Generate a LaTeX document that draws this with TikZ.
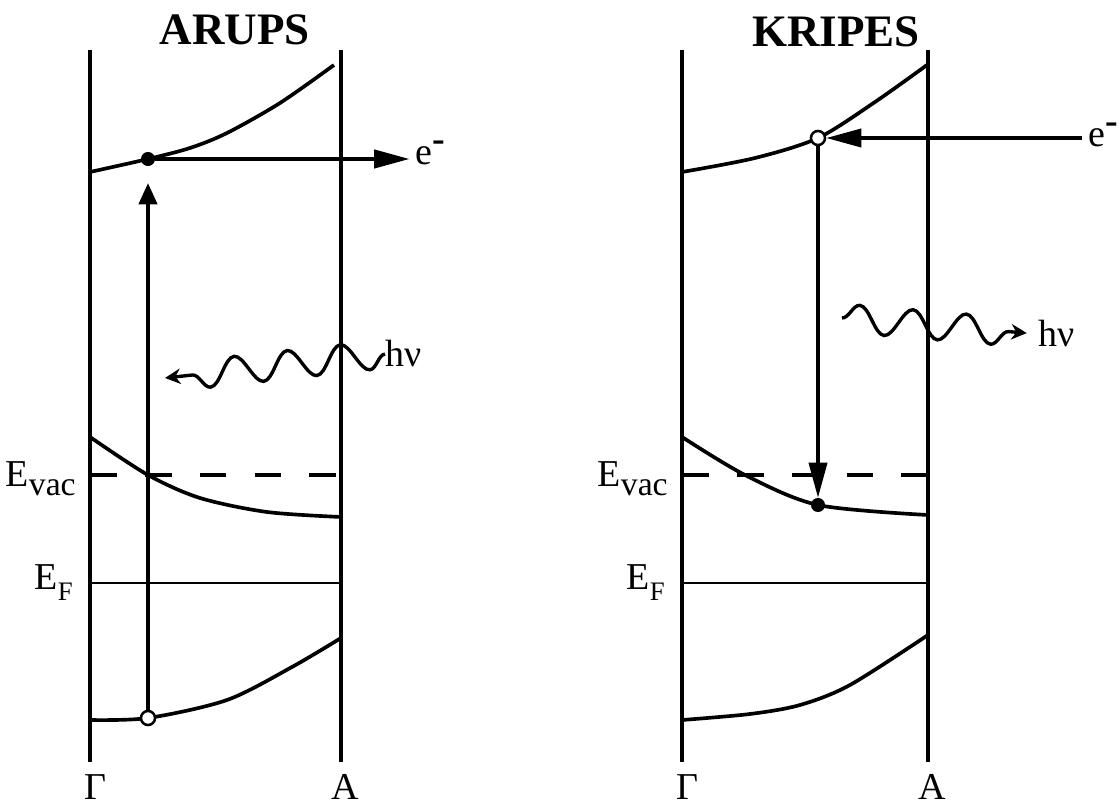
\documentclass[tikz,border=0pt]{standalone}
\usepackage{fontspec}
\setmainfont{Liberation Serif}
\usetikzlibrary{arrows.meta,decorations.pathmorphing}
\tikzset{
  axisline/.style={line width=2.5pt},
  bandline/.style={line width=2.6pt},
  vacline/.style={line width=2.8pt,dash pattern=on 19pt off 20pt},
  fermiline/.style={line width=1.9pt},
  uparrow/.style={-{Triangle[length=15pt,width=13pt]},line width=2.3pt},
  longarrow/.style={-{Triangle[length=25pt,width=13pt]},line width=2.3pt},
  photon/.style={-{Stealth[length=11pt,width=11pt]},line width=2.4pt,decorate,
    decoration={snake,amplitude=10pt,segment length=38pt,post length=8pt}},
  fulldot/.style={circle,fill=black,inner sep=0pt,minimum size=10pt},
  emptydot/.style={circle,draw,line width=1.8pt,fill=white,inner sep=0pt,minimum size=10pt},
  lbl/.style={font=\fontsize{27}{30}\selectfont,inner sep=0pt},
  title/.style={font=\fontsize{32}{36}\selectfont\bfseries},
}

\begin{document}
\begin{tikzpicture}[x=0.025cm,y=-0.025cm]
  \useasboundingbox (0,0) rectangle (1120,806);
  \node[title] (arups) at (235,30) {ARUPS};
  \node[title] (kripes) at (836,32) {KRIPES};
  \foreach \l/\r/\n in {90/341/a,682/928/k}{
    \draw[axisline] (\l,50) -- (\l,762);
    \draw[axisline] (\r,50) -- (\r,762);
    \draw[vacline] (\l,475) -- (\r,475);
    \draw[fermiline] (\l,583) -- (\r,583);
    \node[lbl,anchor=base] (gamma\n) at (\l+5,799) {Γ};
    \node[lbl,anchor=base] (a\n) at (\r+4,799) {A};
    \node[lbl,anchor=base east] (evac\n) at (\l-14,487) {E\raisebox{-6pt}{\fontsize{24}{26}\selectfont vac}};
    \node[lbl,anchor=base east] (ef\n) at (\l-17,589) {E\raisebox{-8pt}{\fontsize{19}{20}\selectfont F}};
  }
  % ARUPS
  \draw[bandline] plot[smooth] coordinates {(90,172) (148,159) (190,148) (227,133) (280,103) (334,65)};
  \draw[bandline] plot[smooth] coordinates {(90,437) (148,475) (200,498) (267,512) (341,517)};
  \draw[bandline] plot[smooth] coordinates {(90,720) (148,718) (227,700) (292,667) (341,638)};
  \node[fulldot] (exa) at (148,159) {};
  \node[emptydot] (holea) at (148,718) {};
  \node[lbl,anchor=base west] (ea) at (415,165) {e\raisebox{9.5pt}{\textbf{-}}};
  \node[lbl,anchor=base west] (hva) at (385,367) {hν};
  \coordinate (pha) at (165,378);
  \draw[uparrow,shorten >=12pt] (holea) -- (exa);
  \draw[longarrow,shorten >=4pt] (exa) -- (exa -| ea.west);
  \draw[photon] (hva.west) -- (pha);
  % KRIPES
  \draw[bandline] plot[smooth] coordinates {(682,172) (755,158) (818,138) (875,102) (927,65)};
  \draw[bandline] plot[smooth] coordinates {(682,437) (745,475) (818,505) (928,515)};
  \draw[bandline] plot[smooth] coordinates {(682,720) (750,714) (800,705) (850,685) (928,635)};
  \node[emptydot] (elk) at (818,138) {};
  \node[fulldot] (fdk) at (818,505) {};
  \node[lbl,anchor=base west] (ek) at (1088,147) {e\raisebox{9.5pt}{\textbf{-}}};
  \node[lbl,anchor=base west] (hvk) at (1038,347) {hν};
  \coordinate (phk) at (842,318);
  \draw[longarrow,shorten <=4pt] (elk -| ek.west) -- (elk);
  \draw[longarrow] (elk) -- (fdk);
  \draw[photon,shorten >=8pt] (phk) -- (hvk.west);
\end{tikzpicture}
\end{document}
